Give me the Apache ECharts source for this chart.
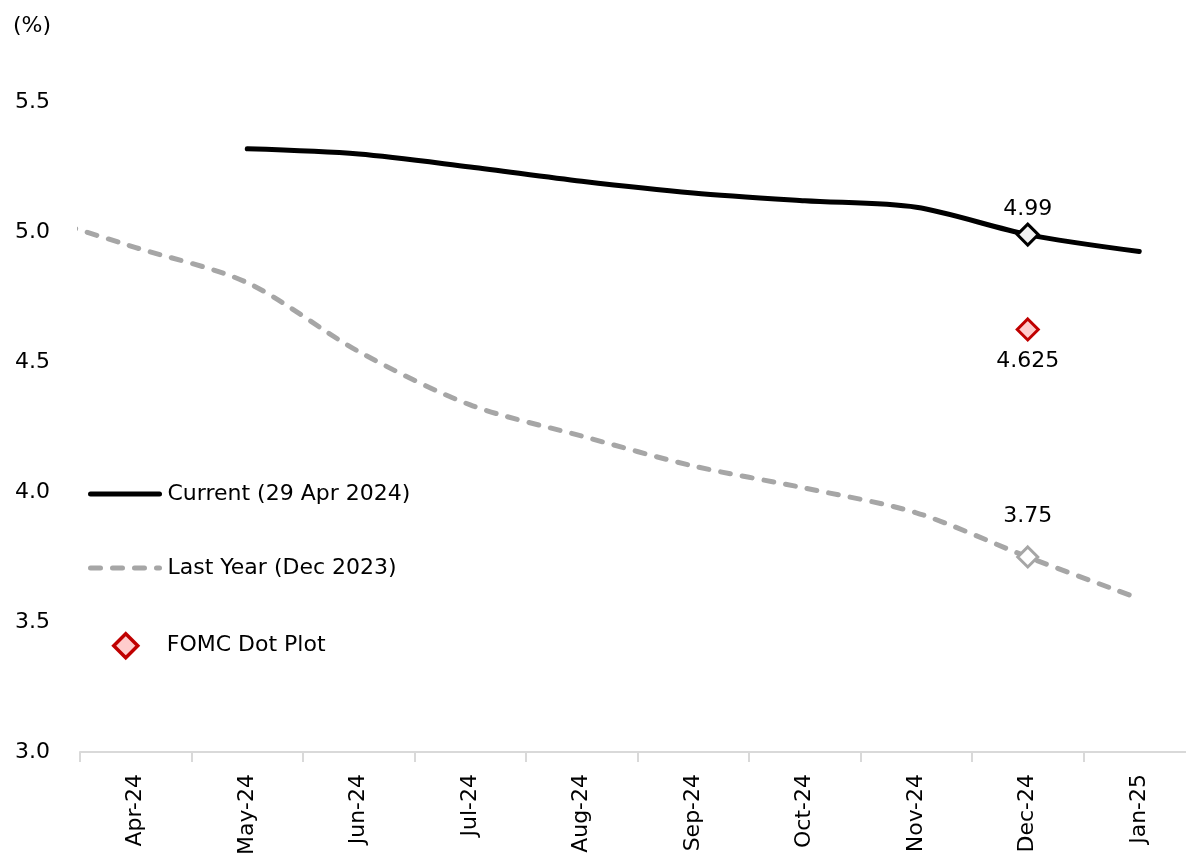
<!DOCTYPE html>
<html>
<head>
<meta charset="utf-8">
<script src="https://cdn.jsdelivr.net/npm/echarts@6/dist/echarts.min.js"></script>
<style>
html,body{margin:0;padding:0;background:#fff;overflow:hidden;}
#chart{width:1210px;height:858px;}
</style>
</head>
<body>
<div id="chart"></div>
<script>
// ---- data ----
const months = ['Apr-24','May-24','Jun-24','Jul-24','Aug-24','Sep-24','Oct-24','Nov-24','Dec-24','Jan-25'];
// Current (29 Apr 2024): starts May-24
const currentValues = [null, 5.32, 5.30, 5.25, 5.195, 5.15, 5.12, 5.095, 4.99, 4.925];
// Last Year (Dec 2023): first value is Mar-24 (left of the axis, clipped), then Apr-24 ... Jan-25
const lastYearMonths = ['Mar-24','Apr-24','May-24','Jun-24','Jul-24','Aug-24','Sep-24','Oct-24','Nov-24','Dec-24','Jan-25'];
const lastYearValues = [5.075, 4.94, 4.805, 4.54, 4.335, 4.215, 4.10, 4.015, 3.92, 3.75, 3.59];
// FOMC Dot Plot
const fomcMonth = 'Dec-24';
const fomcValue = 4.625;
const yTicks = [3.0, 3.5, 4.0, 4.5, 5.0, 5.5];
const legendNames = ['Current (29 Apr 2024)', 'Last Year (Dec 2023)', 'FOMC Dot Plot'];

const FONT = 'DejaVu Sans';
const FS = 22;

const chart = echarts.init(document.getElementById('chart'), null, {renderer: 'canvas'});

const decIdx = months.indexOf('Dec-24');
const currentData = currentValues.map((v, i) => {
  if (i === decIdx) {
    return {
      value: v,
      symbol: 'diamond',
      symbolSize: 21,
      itemStyle: {color: '#f2f2f2', borderColor: '#000', borderWidth: 3},
      label: {show: true, position: 'top', distance: 2, formatter: p => p.value.toFixed(2),
              color: '#000', fontSize: FS, fontFamily: FONT}
    };
  }
  return v;
});

// Last year on hidden value x axis: month k maps to its category centre (index + 0.5)
const lastYearData = lastYearValues.map((v, k) => {
  const x = months.indexOf(lastYearMonths[k]);
  const xv = (x === -1 ? -1 : x) + 0.5;
  if (lastYearMonths[k] === 'Dec-24') {
    return {
      value: [xv, v],
      symbol: 'diamond',
      symbolSize: 20,
      itemStyle: {color: '#ffffff', borderColor: '#a6a6a6', borderWidth: 3},
      label: {show: true, position: 'top', distance: 18, formatter: p => p.value[1].toFixed(2),
              color: '#000', fontSize: FS, fontFamily: FONT}
    };
  }
  return [xv, v];
});

const fomcData = months.map(m => m === fomcMonth ? fomcValue : null);

const option = {
  animation: false,
  backgroundColor: '#ffffff',
  textStyle: {fontFamily: FONT},
  title: {
    text: '(%)', left: 8, top: 10,
    textStyle: {fontSize: FS, fontWeight: 'normal', color: '#000', fontFamily: FONT}
  },
  legend: [
    {
      orient: 'vertical',
      left: 83, top: 478,
      itemWidth: 69, itemHeight: 23, itemGap: 52,
      lineStyle: {width: 'inherit', type: 'inherit', cap: 'round'},
      textStyle: {fontSize: FS, color: '#000', fontFamily: FONT, padding: [0, 0, 0, 3]},
      data: [
        {name: legendNames[0], itemStyle: {opacity: 0}},
        {name: legendNames[1], itemStyle: {opacity: 0}}
      ]
    },
    {
      orient: 'vertical',
      left: 107, top: 627,
      itemWidth: 24, itemHeight: 24,
      symbolKeepAspect: true,
      itemStyle: {borderWidth: 3.5, borderColor: '#c00000', color: '#ffcccc'},
      textStyle: {fontSize: FS, color: '#000', fontFamily: FONT, padding: [0, 0, 0, 24]},
      data: [legendNames[2]]
    }
  ],
  grid: {left: 80, top: 102, width: 1115, height: 652, containLabel: false},
  xAxis: [
    {
      type: 'category', data: months, boundaryGap: true,
      axisLine: {show: true, lineStyle: {color: '#d9d9d9', width: 2}},
      axisTick: {show: true, length: 10, interval: 0, lineStyle: {color: '#d9d9d9', width: 2}},
      axisLabel: {rotate: 90, margin: 22, interval: 0, fontSize: FS, color: '#000', fontFamily: FONT},
      splitLine: {show: false}
    },
    {
      type: 'value', min: 0, max: months.length, show: false, splitLine: {show: false}
    }
  ],
  yAxis: {
    type: 'value', min: yTicks[0], max: yTicks[yTicks.length - 1], interval: 0.5,
    axisLine: {show: false}, axisTick: {show: false}, splitLine: {show: false},
    axisLabel: {margin: 30, padding: [5, 0, 0, 0], fontSize: FS, color: '#000', fontFamily: FONT,
                formatter: v => v.toFixed(1)}
  },
  series: [
    {
      name: legendNames[0], type: 'line', xAxisIndex: 0,
      data: currentData, smooth: 0.3, symbol: 'none', z: 3,
      lineStyle: {color: '#000', width: 5, cap: 'round', join: 'round'},
      itemStyle: {color: '#000'}
    },
    {
      name: legendNames[1], type: 'line', xAxisIndex: 1,
      data: lastYearData, smooth: 0.3, symbol: 'none', clip: true, z: 2,
      lineStyle: {color: '#a6a6a6', width: 5, type: [10, 12], cap: 'round', join: 'round'},
      itemStyle: {color: '#a6a6a6'}
    },
    {
      name: legendNames[2], type: 'scatter', xAxisIndex: 0,
      data: fomcData, symbol: 'diamond', symbolSize: 21, symbolKeepAspect: true, z: 4,
      itemStyle: {color: '#ffcccc', borderColor: '#c00000', borderWidth: 3, opacity: 1},
      label: {show: true, position: 'bottom', distance: 9, formatter: p => String(p.value),
              color: '#000', opacity: 1, fontSize: FS, fontFamily: FONT}
    }
  ]
};

chart.setOption(option);
</script>
</body>
</html>
